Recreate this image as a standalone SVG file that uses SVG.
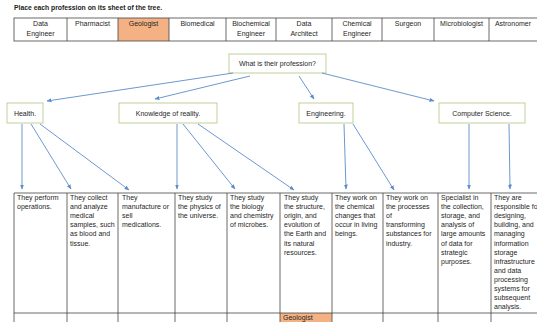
<svg xmlns="http://www.w3.org/2000/svg" width="537" height="322" viewBox="0 0 537 322">
<defs>
<marker id="ah" viewBox="0 0 10 10" refX="9" refY="5" markerWidth="5" markerHeight="5" orient="auto" markerUnits="userSpaceOnUse">
<path d="M0,1 L10,5 L0,9 z" fill="#5b8cc8"/>
</marker>
<style>
text{font-family:"Liberation Sans",Arial,sans-serif;fill:#262626;}
.h{font-size:7px;text-anchor:middle;}
.c{font-size:7px;}
.title{font-size:6.8px;font-weight:bold;fill:#222;}
.box{fill:#fff;stroke:#bfcf9a;stroke-width:1;}
.grid{stroke:#444;stroke-width:0.8;fill:none;}
.conn line{stroke:#5b8cc8;stroke-width:0.9;marker-end:url(#ah);}
.orange{fill:#f4b183;}
</style>
</defs>
<rect width="537" height="322" fill="#fff"/>
<text class="title" x="14" y="10">Place each profession on its sheet of the tree.</text>

<g id="top-table">
<rect class="orange" x="118" y="18" width="51" height="23"/>
<rect class="grid" x="14" y="18" width="540" height="23"/>
<g class="grid">
<line x1="67" y1="18" x2="67" y2="41"/>
<line x1="118" y1="18" x2="118" y2="41"/>
<line x1="169" y1="18" x2="169" y2="41"/>
<line x1="226" y1="18" x2="226" y2="41"/>
<line x1="276" y1="18" x2="276" y2="41"/>
<line x1="332" y1="18" x2="332" y2="41"/>
<line x1="382" y1="18" x2="382" y2="41"/>
<line x1="434" y1="18" x2="434" y2="41"/>
<line x1="489" y1="18" x2="489" y2="41"/>
</g>
<text class="h" x="40.5" y="26">Data</text><text class="h" x="40.5" y="36">Engineer</text>
<text class="h" x="92.5" y="26">Pharmacist</text>
<text class="h" x="143.5" y="26">Geologist</text>
<text class="h" x="197.5" y="26">Biomedical</text>
<text class="h" x="251" y="26">Biochemical</text><text class="h" x="251" y="36">Engineer</text>
<text class="h" x="304" y="26">Data</text><text class="h" x="304" y="36">Architect</text>
<text class="h" x="357" y="26">Chemical</text><text class="h" x="357" y="36">Engineer</text>
<text class="h" x="408" y="26">Surgeon</text>
<text class="h" x="461.5" y="26">Microbiologist</text>
<text class="h" x="513" y="26">Astronomer</text>
</g>

<g id="question">
<rect class="box" x="229" y="54" width="97" height="19"/>
<text class="h" x="277.5" y="66">What is their profession?</text>
</g>
<g id="health">
<rect class="box" x="7" y="103" width="36" height="20"/>
<text class="h" x="25" y="115.5">Health.</text>
</g>
<g id="knowledge">
<rect class="box" x="119" y="103" width="98" height="20"/>
<text class="h" x="168" y="115.5">Knowledge of reality.</text>
</g>
<g id="engineering">
<rect class="box" x="299" y="103" width="54" height="20"/>
<text class="h" x="326" y="115.5">Engineering.</text>
</g>
<g id="computer-science">
<rect class="box" x="439" y="103" width="86" height="20"/>
<text class="h" x="482" y="115.5">Computer Science.</text>
</g>

<g id="connectors" class="conn">
<line x1="233" y1="73" x2="47" y2="101"/>
<line x1="250" y1="76" x2="155" y2="99"/>
<line x1="299" y1="76" x2="314" y2="99"/>
<line x1="322" y1="73" x2="434" y2="101"/>
<line x1="22" y1="124" x2="22" y2="189"/>
<line x1="31" y1="124" x2="71" y2="189"/>
<line x1="40" y1="124" x2="129" y2="190"/>
<line x1="177" y1="124" x2="177" y2="189"/>
<line x1="183" y1="124" x2="235" y2="189"/>
<line x1="198" y1="124" x2="294" y2="190"/>
<line x1="344" y1="124" x2="346" y2="189"/>
<line x1="353" y1="124" x2="394" y2="190"/>
<line x1="469" y1="124" x2="469" y2="189"/>
<line x1="509" y1="124" x2="510" y2="189"/>
</g>

<g id="bottom-table">
<rect class="orange" x="280" y="313" width="52" height="10"/>
<g class="grid">
<line x1="14" y1="193" x2="545" y2="193"/>
<line x1="14" y1="313" x2="545" y2="313"/>
<line x1="14" y1="193" x2="14" y2="322"/>
<line x1="67" y1="193" x2="67" y2="322"/>
<line x1="118" y1="193" x2="118" y2="322"/>
<line x1="175" y1="193" x2="175" y2="322"/>
<line x1="227" y1="193" x2="227" y2="322"/>
<line x1="280" y1="193" x2="280" y2="322"/>
<line x1="332" y1="193" x2="332" y2="322"/>
<line x1="383" y1="193" x2="383" y2="322"/>
<line x1="438" y1="193" x2="438" y2="322"/>
<line x1="491" y1="193" x2="491" y2="322"/>
</g>
<text class="c" x="17" y="200"><tspan x="17">They perform</tspan><tspan x="17" dy="9.1">operations.</tspan></text>
<text class="c" x="70" y="200"><tspan x="70">They collect</tspan><tspan x="70" dy="9.1">and analyze</tspan><tspan x="70" dy="9.1">medical</tspan><tspan x="70" dy="9.1">samples, such</tspan><tspan x="70" dy="9.1">as blood and</tspan><tspan x="70" dy="9.1">tissue.</tspan></text>
<text class="c" x="122" y="200"><tspan x="122">They</tspan><tspan x="122" dy="9.1">manufacture or</tspan><tspan x="122" dy="9.1">sell</tspan><tspan x="122" dy="9.1">medications.</tspan></text>
<text class="c" x="178" y="200"><tspan x="178">They study</tspan><tspan x="178" dy="9.1">the physics of</tspan><tspan x="178" dy="9.1">the universe.</tspan></text>
<text class="c" x="230" y="200"><tspan x="230">They study</tspan><tspan x="230" dy="9.1">the biology</tspan><tspan x="230" dy="9.1">and chemistry</tspan><tspan x="230" dy="9.1">of microbes.</tspan></text>
<text class="c" x="284" y="200"><tspan x="284">They study</tspan><tspan x="284" dy="9.1">the structure,</tspan><tspan x="284" dy="9.1">origin, and</tspan><tspan x="284" dy="9.1">evolution of</tspan><tspan x="284" dy="9.1">the Earth and</tspan><tspan x="284" dy="9.1">its natural</tspan><tspan x="284" dy="9.1">resources.</tspan></text>
<text class="c" x="335" y="200"><tspan x="335">They work on</tspan><tspan x="335" dy="9.1">the chemical</tspan><tspan x="335" dy="9.1">changes that</tspan><tspan x="335" dy="9.1">occur in living</tspan><tspan x="335" dy="9.1">beings.</tspan></text>
<text class="c" x="386" y="200"><tspan x="386">They work on</tspan><tspan x="386" dy="9.1">the processes</tspan><tspan x="386" dy="9.1">of</tspan><tspan x="386" dy="9.1">transforming</tspan><tspan x="386" dy="9.1">substances for</tspan><tspan x="386" dy="9.1">industry.</tspan></text>
<text class="c" x="441" y="200"><tspan x="441">Specialist in</tspan><tspan x="441" dy="9.1">the collection,</tspan><tspan x="441" dy="9.1">storage, and</tspan><tspan x="441" dy="9.1">analysis of</tspan><tspan x="441" dy="9.1">large amounts</tspan><tspan x="441" dy="9.1">of data for</tspan><tspan x="441" dy="9.1">strategic</tspan><tspan x="441" dy="9.1">purposes.</tspan></text>
<text class="c" x="494" y="200"><tspan x="494">They are</tspan><tspan x="494" dy="9.1">responsible for</tspan><tspan x="494" dy="9.1">designing,</tspan><tspan x="494" dy="9.1">building, and</tspan><tspan x="494" dy="9.1">managing</tspan><tspan x="494" dy="9.1">information</tspan><tspan x="494" dy="9.1">storage</tspan><tspan x="494" dy="9.1">infrastructure</tspan><tspan x="494" dy="9.1">and data</tspan><tspan x="494" dy="9.1">processing</tspan><tspan x="494" dy="9.1">systems for</tspan><tspan x="494" dy="9.1">subsequent</tspan><tspan x="494" dy="9.1">analysis.</tspan></text>
<text class="c" x="283" y="320">Geologist</text>
</g>
</svg>
